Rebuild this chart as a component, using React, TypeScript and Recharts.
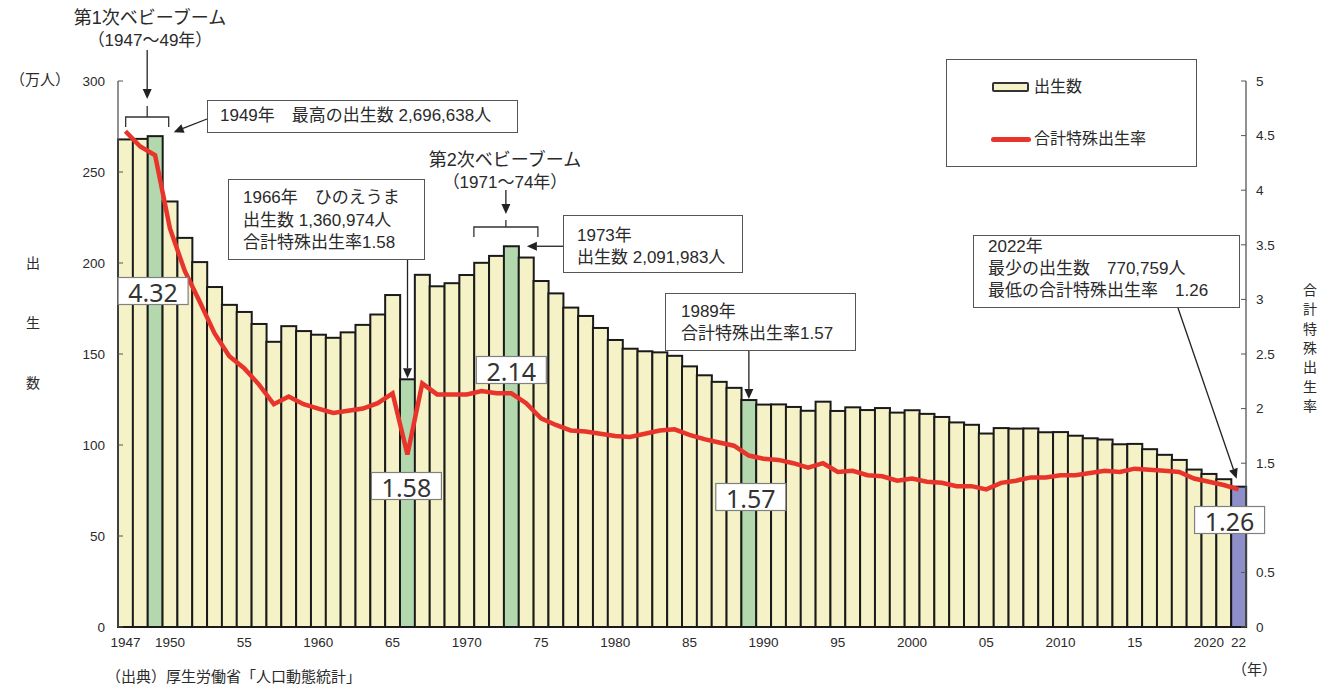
import React from 'react';
import { ComposedChart, Bar, Line, XAxis, YAxis, LabelList } from 'recharts';

const years = [
  1947, 1948, 1949, 1950, 1951, 1952, 1953, 1954, 1955, 1956, 1957, 1958, 1959,
  1960, 1961, 1962, 1963, 1964, 1965, 1966, 1967, 1968, 1969, 1970, 1971, 1972,
  1973, 1974, 1975, 1976, 1977, 1978, 1979, 1980, 1981, 1982, 1983, 1984, 1985,
  1986, 1987, 1988, 1989, 1990, 1991, 1992, 1993, 1994, 1995, 1996, 1997, 1998,
  1999, 2000, 2001, 2002, 2003, 2004, 2005, 2006, 2007, 2008, 2009, 2010, 2011,
  2012, 2013, 2014, 2015, 2016, 2017, 2018, 2019, 2020, 2021, 2022,
];

// 出生数（万人）
const births = [
  267.9, 268.2, 269.7, 233.8, 213.8, 200.5, 186.8, 177.0, 173.1, 166.5, 156.7, 165.3, 162.6,
  160.6, 158.9, 161.9, 166.0, 171.7, 182.4, 136.1, 193.5, 187.2, 188.9, 193.4, 200.1, 203.9,
  209.2, 203.0, 190.1, 183.3, 175.5, 170.9, 164.3, 157.7, 152.9, 151.5, 150.9, 149.0, 143.2,
  138.3, 134.7, 131.4, 124.7, 122.2, 122.3, 120.9, 118.8, 123.8, 118.7, 120.7, 119.2, 120.3,
  117.8, 119.1, 117.1, 115.4, 112.4, 111.1, 106.3, 109.3, 109.0, 109.1, 107.0, 107.1, 105.1,
  103.7, 103.0, 100.4, 100.6, 97.7, 94.6, 91.8, 86.5, 84.1, 81.2, 77.1,
];

// 合計特殊出生率
const tfr = [
  4.54, 4.40, 4.32, 3.65, 3.26, 2.98, 2.69, 2.48, 2.37, 2.22, 2.04, 2.11, 2.04,
  2.00, 1.96, 1.98, 2.00, 2.05, 2.14, 1.58, 2.23, 2.13, 2.13, 2.13, 2.16, 2.14,
  2.14, 2.05, 1.91, 1.85, 1.80, 1.79, 1.77, 1.75, 1.74, 1.77, 1.80, 1.81, 1.76,
  1.72, 1.69, 1.66, 1.57, 1.54, 1.53, 1.50, 1.46, 1.50, 1.42, 1.43, 1.39, 1.38,
  1.34, 1.36, 1.33, 1.32, 1.29, 1.29, 1.26, 1.32, 1.34, 1.37, 1.37, 1.39, 1.39,
  1.41, 1.43, 1.42, 1.45, 1.44, 1.43, 1.42, 1.36, 1.33, 1.30, 1.26,
];

const greenYears = [1949, 1966, 1973, 1989];
const purpleYears = [2022];

const xTicks = [1947, 1950, 1955, 1960, 1965, 1970, 1975, 1980, 1985, 1990, 1995, 2000, 2005, 2010, 2015, 2020, 2022];
const xTickLabels = ['1947', '1950', '55', '1960', '65', '1970', '75', '1980', '85', '1990', '95', '2000', '05', '2010', '15', '2020', '22'];
const leftTicks = [0, 50, 100, 150, 200, 250, 300];
const rightTicks = [0, 0.5, 1, 1.5, 2, 2.5, 3, 3.5, 4, 4.5, 5];

const rateLabelYears = [1949, 1966, 1973, 1989, 2022];
const rateLabelTexts = ['4.32', '1.58', '2.14', '1.57', '1.26'];
// layout only: vertical centre and horizontal nudge of each value box
const rateBoxY = [291, 486, 370, 497, 520];
const rateBoxDx = [-2, -1, 0, 2, -9];

const data = years.map((year, i) => ({ year, births: births[i], tfr: tfr[i] }));

const FONT = '"Liberation Sans", "Noto Sans CJK JP", sans-serif';
const TEXT = '#2a2a2a';
const YELLOW = '#F4F2C6';
const GREEN = '#B4D8AE';
const PURPLE = '#8E8FC9';
const RED = '#E8342A';

function Arrow({ x1, y1, x2, y2, head = 10, hw = 4.5 }: any) {
  const ang = Math.atan2(y2 - y1, x2 - x1);
  const bx = x2 - head * Math.cos(ang);
  const by = y2 - head * Math.sin(ang);
  const px = -Math.sin(ang) * hw;
  const py = Math.cos(ang) * hw;
  return (
    <g>
      <line x1={x1} y1={y1} x2={bx} y2={by} stroke="#222" strokeWidth={1.3} />
      <polygon points={`${x2},${y2} ${bx + px},${by + py} ${bx - px},${by - py}`} fill="#222" />
    </g>
  );
}

function Bracket({ left, right, top, legs, nub }: any) {
  const mid = (left + right) / 2;
  return (
    <path
      d={`M${left},${legs} L${left},${top} L${right},${top} L${right},${legs} M${mid},${top} L${mid},${nub}`}
      fill="none"
      stroke="#333"
      strokeWidth={1.3}
    />
  );
}

const BarShape = (props: any) => {
  const { x, y, width, height, payload } = props;
  const year = payload.year;
  let fill = YELLOW;
  if (greenYears.includes(year)) fill = GREEN;
  if (purpleYears.includes(year)) fill = PURPLE;
  const cx = x + width / 2;
  let extra: any = null;
  if (year === 1949) {
    const left = x - 2 * width + 8;
    const right = x + width + 6;
    const mid = (left + right) / 2;
    extra = (
      <g>
        <Bracket left={left} right={right} top={117} legs={127} nub={106} />
        <Arrow x1={mid} y1={50} x2={mid} y2={99} />
        <Arrow x1={207} y1={119} x2={x + width + 11} y2={y - 4} />
      </g>
    );
  } else if (year === 1966) {
    extra = <Arrow x1={cx} y1={260} x2={cx} y2={y - 1} />;
  } else if (year === 1973) {
    const left = x - 2 * width;
    const right = x + 2 * width + 4;
    const mid = (left + right) / 2;
    extra = (
      <g>
        <Bracket left={left} right={right} top={227} legs={237} nub={220} />
        <Arrow x1={mid} y1={190} x2={mid} y2={214} />
        <Arrow x1={563} y1={y} x2={x + width + 8} y2={y} />
      </g>
    );
  } else if (year === 1989) {
    extra = <Arrow x1={cx} y1={351} x2={cx} y2={y - 1} />;
  } else if (year === 2022) {
    extra = <Arrow x1={1178} y1={308} x2={cx - 2} y2={y - 8} />;
  }
  return (
    <g>
      <rect x={x} y={y} width={width} height={height} fill={fill} stroke="#1a1a1a" strokeWidth={2} />
      {extra}
    </g>
  );
};

const RateBox = (props: any) => {
  const vb = props.viewBox || {};
  const x = props.x != null ? props.x : vb.x;
  const k = rateLabelYears.indexOf(Number(props.value));
  if (k < 0 || x == null) return null;
  const cx = x + rateBoxDx[k];
  const cy = rateBoxY[k];
  return (
    <g>
      <rect x={cx - 35} y={cy - 13.5} width={70} height={27} fill="#fff" stroke="#808080" strokeWidth={1.2} />
      <text
        x={cx}
        y={cy + 1}
        textAnchor="middle"
        dominantBaseline="central"
        fontSize={25}
        fontFamily='"Noto Sans", "Open Sans", sans-serif'
        fill="#333"
      >
        {rateLabelTexts[k]}
      </text>
    </g>
  );
};

const abs = (style: any): any => ({ position: 'absolute', whiteSpace: 'nowrap', ...style });

const boxStyle = (left: number, top: number, width: number, height: number, extra: any = {}) =>
  abs({
    left,
    top,
    width,
    height,
    boxSizing: 'border-box',
    border: '1.5px solid #555',
    background: '#fff',
    fontSize: 17,
    ...extra,
  });

export default function App() {
  const tickStyle = { fontFamily: FONT, fontSize: 13.5, fill: TEXT };
  const vChars = ['合', '計', '特', '殊', '出', '生', '率'];
  const lChars = ['出', '生', '数'];
  return (
    <div
      style={{
        position: 'absolute',
        left: 0,
        top: 0,
        width: 1320,
        height: 685,
        background: '#fff',
        fontFamily: FONT,
        color: TEXT,
        overflow: 'hidden',
      }}
    >
      <ComposedChart
        width={1320}
        height={685}
        data={data}
        margin={{ top: 81, right: 34, bottom: 28, left: 58 }}
        barCategoryGap={0}
        barGap={0}
      >
        <XAxis
          dataKey="year"
          type="category"
          ticks={xTicks}
          interval={0}
          tickFormatter={(v: any) => xTickLabels[xTicks.indexOf(Number(v))] ?? ''}
          tickLine={false}
          tickSize={0}
          tickMargin={10}
          axisLine={{ stroke: '#1a1a1a', strokeWidth: 2 }}
          tick={tickStyle}
          height={30}
        />
        <YAxis
          yAxisId="left"
          orientation="left"
          domain={[0, 300]}
          ticks={leftTicks}
          interval={0}
          width={60}
          tickSize={-5}
          tickMargin={18}
          axisLine={{ stroke: '#555', strokeWidth: 1.3 }}
          tickLine={{ stroke: '#555' }}
          tick={tickStyle}
        />
        <YAxis
          yAxisId="right"
          orientation="right"
          domain={[0, 5]}
          ticks={rightTicks}
          interval={0}
          width={40}
          tickSize={-5}
          tickMargin={15}
          axisLine={{ stroke: '#555', strokeWidth: 1.3 }}
          tickLine={{ stroke: '#555' }}
          tick={tickStyle}
        />
        <Bar yAxisId="left" dataKey="births" shape={BarShape} isAnimationActive={false} />
        <Line
          yAxisId="right"
          dataKey="tfr"
          type="linear"
          stroke={RED}
          strokeWidth={4.5}
          dot={false}
          activeDot={false}
          isAnimationActive={false}
        >
          <LabelList dataKey="year" content={RateBox} />
        </Line>
      </ComposedChart>

      {/* axis titles */}
      <div style={abs({ left: 10, top: 70, fontSize: 15, lineHeight: '20px' })}>（万人）</div>
      {lChars.map((c, i) => (
        <div key={c} style={abs({ left: 25, top: 253 + i * 60, width: 16, textAlign: 'center', fontSize: 14, lineHeight: '20px' })}>
          {c}
        </div>
      ))}
      {vChars.map((c, i) => (
        <div key={i} style={abs({ left: 1302, top: 280 + i * 19.3, width: 16, textAlign: 'center', fontSize: 14, lineHeight: '20px' })}>
          {c}
        </div>
      ))}
      <div style={abs({ left: 1232, top: 660, fontSize: 15, lineHeight: '20px' })}>（年）</div>
      <div style={abs({ left: 106, top: 667, fontSize: 15, lineHeight: '20px' })}>（出典）厚生労働省「人口動態統計」</div>

      {/* baby boom titles */}
      <div style={abs({ left: 50, top: 7, width: 200, textAlign: 'center', fontSize: 18, lineHeight: '22px' })}>
        第1次ベビーブーム
        <br />
        <span style={{ fontSize: 17 }}>（1947〜49年）</span>
      </div>
      <div style={abs({ left: 405, top: 149, width: 200, textAlign: 'center', fontSize: 18, lineHeight: '22px' })}>
        第2次ベビーブーム
        <br />
        <span style={{ fontSize: 17 }}>（1971〜74年）</span>
      </div>

      {/* annotation boxes */}
      <div style={boxStyle(207, 100, 311, 33, { paddingLeft: 12, lineHeight: '30px' })}>1949年　最高の出生数 2,696,638人</div>
      <div style={boxStyle(228, 179, 197, 81, { paddingLeft: 14, paddingTop: 7, lineHeight: '22.5px' })}>
        1966年　ひのえうま
        <br />
        出生数 1,360,974人
        <br />
        合計特殊出生率1.58
      </div>
      <div style={boxStyle(563, 215, 180, 58, { paddingLeft: 13, paddingTop: 9, lineHeight: '22px' })}>
        1973年
        <br />
        出生数 2,091,983人
      </div>
      <div style={boxStyle(665, 293, 191, 58, { paddingLeft: 15, paddingTop: 7, lineHeight: '22px' })}>
        1989年
        <br />
        合計特殊出生率1.57
      </div>
      <div style={boxStyle(973, 235, 267, 73, { paddingLeft: 14, paddingTop: 0, lineHeight: '22px' })}>
        2022年
        <br />
        最少の出生数　770,759人
        <br />
        最低の合計特殊出生率　1.26
      </div>

      {/* legend */}
      <div style={boxStyle(946, 59, 251, 108, { border: '1.5px solid #555' })}>
        <div
          style={abs({
            left: 45,
            top: 22,
            width: 37,
            height: 10,
            boxSizing: 'border-box',
            border: '2.5px solid #333',
            borderRadius: 2,
            background: YELLOW,
          })}
        />
        <div style={abs({ left: 87, top: 17, fontSize: 16, lineHeight: '20px' })}>出生数</div>
        <div style={abs({ left: 44, top: 77, width: 40, height: 5, borderRadius: 3, background: RED })} />
        <div style={abs({ left: 87, top: 69, fontSize: 16, lineHeight: '20px' })}>合計特殊出生率</div>
      </div>
    </div>
  );
}
